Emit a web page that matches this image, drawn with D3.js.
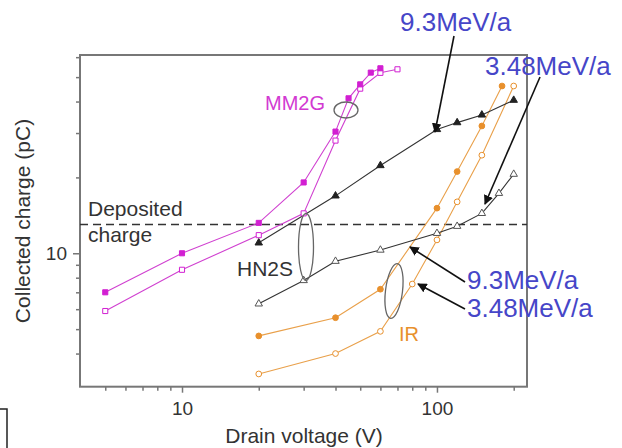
<!DOCTYPE html>
<html><head><meta charset="utf-8">
<script src="https://cdn.jsdelivr.net/npm/d3@7"></script>
<style>body{margin:0;background:#fff}svg{display:block}text{font-family:"Liberation Sans",Arial,sans-serif}</style>
</head><body><svg id="c" width="622" height="448"></svg>
<script>
// ---- data ----
const mm2gFilledV=[5,10,20,30,40,45,50,55,60];
const mm2gFilledQ=[7.0,10.0,13.2,19.1,30.4,41.2,46.8,52.1,54.2];
const mm2gOpenV=[5,10,20,30,40,50,60,70];
const mm2gOpenQ=[5.9,8.6,11.8,14.4,28,45,52,53.7];
const hn2sFilledV=[20,40,60,100,120,150,200];
const hn2sFilledQ=[11.0,16.9,22.3,31.0,33.0,35.4,40.5];
const hn2sOpenV=[20,30,40,60,100,120,150,175,200];
const hn2sOpenQ=[6.3,7.8,9.3,10.3,12.0,12.8,14.4,17.3,20.6];
const irFilledV=[20,40,60,100,120,150,180];
const irFilledQ=[4.7,5.55,7.2,15.1,21.1,32.0,46.1];
const irOpenV=[20,40,60,80,100,120,150,200];
const irOpenQ=[3.32,4.0,4.9,7.55,11.3,16.0,24.5,46.1];
const depositedCharge=13.0;
const xMajorTicks=[10,100];
const xMinorTicks=[5,6,7,8,9,20,30,40,50,60,70,80,90,200];
const yMajorTicks=[10];
const yMinorTicks=[4,5,6,7,8,9,20,30,40,50,60];

const svg=d3.select("#c");
svg.append("rect").attr("width",622).attr("height",448).attr("fill","#fff");
const L=80,R=527,T=55,B=386.7;
const x=d3.scaleLog().domain([3.98,225.5]).range([L,R]);
const y=d3.scaleLog().domain([2.955,61.2]).range([B,T]);
const axisCol="#777";

// frame
svg.append("rect").attr("x",L).attr("y",T).attr("width",R-L).attr("height",B-T)
  .attr("fill","none").attr("stroke",axisCol).attr("stroke-width",2);

// axes
function styleAxis(g){g.select(".domain").remove();g.selectAll("line").attr("stroke",axisCol).attr("stroke-width",1.5);
  g.selectAll("text").attr("fill","#333").attr("font-size",19).attr("font-family","'Liberation Sans',Arial,sans-serif");}
svg.append("g").attr("transform",`translate(0,${B})`)
  .call(d3.axisBottom(x).tickValues(xMinorTicks).tickSize(4).tickFormat(""))
  .call(styleAxis);
svg.append("g").attr("transform",`translate(0,${B})`)
  .call(d3.axisBottom(x).tickValues(xMajorTicks).tickSize(6).tickPadding(9).tickFormat(d3.format("d")))
  .call(styleAxis);
svg.append("g").attr("transform",`translate(${L},0)`)
  .call(d3.axisLeft(y).tickValues(yMinorTicks).tickSize(4).tickFormat(""))
  .call(styleAxis);
svg.append("g").attr("transform",`translate(${L},0)`)
  .call(d3.axisLeft(y).tickValues(yMajorTicks).tickSize(7).tickPadding(6).tickFormat(d3.format("d")))
  .call(styleAxis);

// titles
svg.append("text").attr("x",304).attr("y",443).attr("text-anchor","middle").attr("font-size",21).attr("fill","#333").text("Drain voltage (V)");
svg.append("text").attr("transform","translate(30,221) rotate(-90)").attr("text-anchor","middle").attr("font-size",21).attr("fill","#333").text("Collected charge (pC)");

// deposited line
svg.append("line").attr("x1",L).attr("x2",R).attr("y1",y(depositedCharge)).attr("y2",y(depositedCharge))
  .attr("stroke","#333").attr("stroke-width",1.6).attr("stroke-dasharray","8,5");
svg.append("text").attr("x",88).attr("y",216).attr("font-size",21).attr("fill","#333").text("Deposited");
svg.append("text").attr("x",88).attr("y",242).attr("font-size",21).attr("fill","#333").text("charge");

// series
const line=d3.line().x(d=>x(d[0])).y(d=>y(d[1]));
function series(vs,qs,color,lineColor,shape,filled){
  const pts=vs.map((v,i)=>[v,qs[i]]);
  svg.append("path").datum(pts).attr("d",line).attr("fill","none").attr("stroke",lineColor).attr("stroke-width",1.1);
  const sym=d3.symbol().type(shape).size(shape===d3.symbolTriangle?24:26);
  svg.selectAll(null).data(pts).enter().append("path")
    .attr("d",sym).attr("transform",d=>`translate(${x(d[0])},${y(d[1])})`)
    .attr("fill",filled?color:"#fff").attr("stroke",color).attr("stroke-width",1);
}
const mag="#d21fd2", orange="#e8902c", dark="#222";
series(irOpenV,irOpenQ,orange,"#e9a04a",d3.symbolCircle,false);
series(irFilledV,irFilledQ,orange,"#e9a04a",d3.symbolCircle,true);
series(hn2sOpenV,hn2sOpenQ,"#555","#333",d3.symbolTriangle,false);
series(hn2sFilledV,hn2sFilledQ,dark,"#333",d3.symbolTriangle,true);
series(mm2gOpenV,mm2gOpenQ,mag,"#d040d0",d3.symbolSquare,false);
series(mm2gFilledV,mm2gFilledQ,mag,"#d040d0",d3.symbolSquare,true);

// ellipses
const ell=[[346,110,12,8,0],[306,247,7.5,33.5,0],[394,291,8.5,27.5,7]];
ell.forEach(e=>svg.append("ellipse").attr("cx",0).attr("cy",0).attr("rx",e[2]).attr("ry",e[3])
  .attr("transform",`translate(${e[0]},${e[1]}) rotate(${e[4]})`)
  .attr("fill","none").attr("stroke","#666").attr("stroke-width",1.3));

// group labels
svg.append("text").attr("x",265).attr("y",110).attr("font-size",20).attr("fill","#d23ad2").text("MM2G");
svg.append("text").attr("x",237).attr("y",276).attr("font-size",21).attr("fill","#333").text("HN2S");
svg.append("text").attr("x",399).attr("y",341).attr("font-size",20).attr("fill","#e8902c").text("IR");

// arrows
const defs=svg.append("defs");
defs.append("marker").attr("id","ah").attr("viewBox","0 0 10 10").attr("refX",9).attr("refY",5)
  .attr("markerWidth",6).attr("markerHeight",6).attr("markerUnits","strokeWidth").attr("orient","auto")
  .append("path").attr("d","M0,0 L10,5 L0,10 z").attr("fill","#111");
const arrows=[[454,36,435,132],[540,77,485,204],[465,282,410,247],[465,309,418,284]];
arrows.forEach(a=>svg.append("line").attr("x1",a[0]).attr("y1",a[1]).attr("x2",a[2]).attr("y2",a[3])
  .attr("stroke","#111").attr("stroke-width",1.6).attr("marker-end","url(#ah)"));

// energy labels
const blue="#4646c8";
[[400,31,"9.3MeV/a"],[485,75,"3.48MeV/a"],[467,289,"9.3MeV/a"],[467,317,"3.48MeV/a"]].forEach(t=>
  svg.append("text").attr("x",t[0]).attr("y",t[1]).attr("font-size",26).attr("fill",blue).text(t[2]));

// corner bracket fragment
svg.append("path").attr("d","M0,409 L7,409 L7,448").attr("fill","none").attr("stroke","#222").attr("stroke-width",1.5);
</script></body></html>
